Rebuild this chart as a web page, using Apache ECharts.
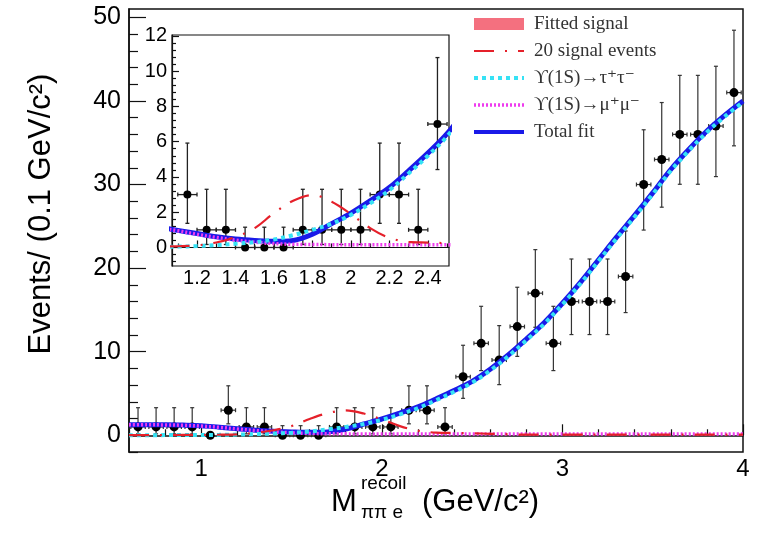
<!DOCTYPE html>
<html>
<head>
<meta charset="utf-8">
<script src="https://cdn.jsdelivr.net/npm/echarts@6/dist/echarts.min.js"></script>
<style>
html, body { margin: 0; padding: 0; background: #fff; }
#chart { width: 763px; height: 534px; }
</style>
</head>
<body>
<div id="chart"></div>
<script>
// Binned data: recoil mass bin centres (GeV/c^2), event counts and 68% Poisson bounds
const binCenters = [0.65, 0.75, 0.85, 0.95, 1.05, 1.15, 1.25, 1.35, 1.45, 1.55, 1.65, 1.75, 1.85, 1.95, 2.05, 2.15, 2.25, 2.35, 2.45, 2.55, 2.65, 2.75, 2.85, 2.95, 3.05, 3.15, 3.25, 3.35, 3.45, 3.55, 3.65, 3.75, 3.85, 3.95];
const counts = [1, 1, 1, 1, 0, 3, 1, 1, 0, 0, 0, 1, 1, 1, 1, 3, 3, 1, 7, 11, 9, 13, 17, 11, 16, 16, 16, 19, 30, 33, 36, 36, 37, 41];
const errLow = [0.17, 0.17, 0.17, 0.17, 0, 1.37, 0.17, 0.17, 0, 0, 0, 0.17, 0.17, 0.17, 0.17, 1.37, 1.37, 0.17, 4.42, 7.74, 6.06, 9.44, 12.92, 7.74, 12.05, 12.05, 12.05, 14.68, 24.55, 27.29, 30.03, 30.03, 30.95, 34.63];
const errHigh = [3.30, 3.30, 3.30, 3.30, 0, 5.92, 3.30, 3.30, 1.15, 1.15, 1.15, 3.30, 3.30, 3.30, 3.30, 5.92, 5.92, 3.30, 10.77, 15.43, 13.12, 17.71, 22.21, 15.43, 21.09, 21.09, 21.09, 24.44, 36.55, 39.81, 43.06, 43.06, 44.15, 48.46];

// Fit components sampled along the mass axis
const curveX = [0.6, 0.7, 0.8, 0.9, 1.0, 1.1, 1.2, 1.3, 1.4, 1.5, 1.6, 1.7, 1.8, 1.9, 2.0, 2.1, 2.2, 2.3, 2.4, 2.5, 2.6, 2.7, 2.8, 2.9, 3.0, 3.1, 3.2, 3.3, 3.4, 3.5, 3.6, 3.7, 3.8, 3.9, 4.0];
const totalFit = [1.25, 1.26, 1.25, 1.22, 1.15, 0.97, 0.79, 0.61, 0.48, 0.40, 0.35, 0.40, 0.75, 1.35, 1.95, 2.65, 3.40, 4.35, 5.35, 6.45, 7.90, 9.60, 11.50, 13.50, 15.80, 18.30, 21.00, 23.70, 26.30, 29.00, 31.80, 34.20, 36.40, 38.30, 40.00];
const tauTau = [0.00, 0.01, 0.02, 0.03, 0.04, 0.05, 0.08, 0.14, 0.21, 0.30, 0.45, 0.70, 1.00, 1.35, 1.85, 2.50, 3.25, 4.20, 5.20, 6.30, 7.75, 9.45, 11.35, 13.35, 15.65, 18.15, 20.85, 23.55, 26.15, 28.85, 31.65, 34.05, 36.25, 38.15, 39.85];
const muMu = [1.25, 1.25, 1.24, 1.20, 1.10, 0.95, 0.75, 0.57, 0.42, 0.30, 0.22, 0.18, 0.17, 0.16, 0.16, 0.16, 0.16, 0.15, 0.15, 0.15, 0.15, 0.15, 0.15, 0.15, 0.15, 0.15, 0.15, 0.15, 0.15, 0.15, 0.15, 0.15, 0.15, 0.15, 0.15];
const signal20 = [0.02, 0.02, 0.03, 0.04, 0.05, 0.07, 0.12, 0.28, 0.60, 1.10, 1.95, 2.65, 2.97, 2.60, 1.90, 1.10, 0.55, 0.32, 0.28, 0.24, 0.18, 0.12, 0.08, 0.08, 0.08, 0.08, 0.08, 0.08, 0.08, 0.08, 0.08, 0.08, 0.08, 0.08, 0.08];
const fittedSignal = [0, 0, 0, 0, 0, 0, 0, 0, 0, 0, 0, 0, 0, 0, 0, 0, 0, 0, 0, 0, 0, 0, 0, 0, 0, 0, 0, 0, 0, 0, 0, 0, 0, 0, 0];

// Tick labels
const xTickLabels = [1, 2, 3, 4];
const yTickLabels = [0, 10, 20, 30, 40, 50];
const insetXTickLabels = [1.2, 1.4, 1.6, 1.8, 2, 2.2, 2.4];
const insetYTickLabels = [0, 2, 4, 6, 8, 10, 12];

// Legend entries
const legendNames = ['Fitted signal', '20 signal events', 'ϒ(1S)→τ⁺τ⁻', 'ϒ(1S)→μ⁺μ⁻', 'Total fit'];

const SANS = '"Liberation Sans", Arial, Helvetica, sans-serif';
const SERIF = '"Liberation Serif", "Times New Roman", "DejaVu Serif", serif';
const COL = { signal: '#f4707f', red: '#e5202a', cyan: '#36e2f5', magenta: '#ee3cee', blue: '#1a1ae8' };

const LINE_STYLES = {
  total: { color: COL.blue, width: 5 },
  mumu: { color: COL.magenta, width: 3.5, type: [2, 2] },
  tautau: { color: COL.cyan, width: 4, type: [4, 4] },
  signal: { color: COL.red, width: 2.2, type: [20, 11, 2, 11] }
};

const X_RANGE = [0.6, 4.0], Y_RANGE = [-2, 51];
const INSET_X = [1.07, 2.51], INSET_Y = [-1.05, 12.05];

function steps(from, to, step, skipEvery) {
  const out = [];
  const n = Math.round((to - from) / step);
  for (let k = 0; k <= n; k++) {
    const v = Math.round((from + k * step) * 1000) / 1000;
    const r = v / skipEvery;
    if (Math.abs(r - Math.round(r)) > 1e-6) out.push(v);
  }
  return out;
}
const xMinor = steps(0.6, 4.0, 0.2, 1);
const yMinor = steps(-2, 50, 2, 10);
const insetXMinor = steps(1.1, 2.5, 0.1, 0.2);
const insetYMinor = steps(-0.8, 12, 0.4, 2);

function pairs(xs, ys) { return xs.map((x, i) => [x, ys[i]]); }
function points(filter) {
  const out = [];
  binCenters.forEach((x, i) => {
    if (!filter || (x > filter[0] && x < filter[1])) out.push([x, counts[i], errLow[i], errHigh[i]]);
  });
  return out;
}

function errorBars(halfWidth, cap, color, width) {
  return function (params, api) {
    const x = api.value(0), y = api.value(1), lo = api.value(2), hi = api.value(3);
    if (!(hi > lo)) return { type: 'group', children: [] };
    const c = api.coord([x, y]);
    const l = api.coord([x - halfWidth, y]);
    const r = api.coord([x + halfWidth, y]);
    const t = api.coord([x, hi]);
    const b = api.coord([x, lo]);
    const style = { stroke: color, lineWidth: width };
    const ln = (x1, y1, x2, y2) => ({ type: 'line', shape: { x1, y1, x2, y2 }, style });
    return {
      type: 'group',
      children: [
        ln(l[0], c[1], r[0], c[1]),
        ln(l[0], c[1] - cap, l[0], c[1] + cap),
        ln(r[0], c[1] - cap, r[0], c[1] + cap),
        ln(c[0], t[1], c[0], b[1]),
        ln(c[0] - cap, t[1], c[0] + cap, t[1]),
        ln(c[0] - cap, b[1], c[0] + cap, b[1])
      ]
    };
  };
}

function valueAxis(o) {
  return Object.assign({
    type: 'value',
    splitLine: { show: false },
    axisLine: { show: false },
    axisLabel: { show: false },
    axisTick: { show: false }
  }, o);
}

const mainAxisLine = { show: true, lineStyle: { color: '#111', width: 1.5 } };
const insetAxisLine = { show: true, lineStyle: { color: '#111', width: 1.2 } };
const tickStyle = { color: '#111', width: 1.2 };

function fitLines(xi, yi, zBase) {
  const common = { type: 'line', xAxisIndex: xi, yAxisIndex: yi, smooth: 0.35, symbol: 'none' };
  return [
    Object.assign({ name: legendNames[4], data: pairs(curveX, totalFit), z: zBase, color: COL.blue,
      lineStyle: LINE_STYLES.total }, common),
    Object.assign({ name: legendNames[3], data: pairs(curveX, muMu), z: zBase + 1, color: COL.magenta,
      lineStyle: LINE_STYLES.mumu }, common),
    Object.assign({ name: legendNames[2], data: pairs(curveX, tauTau), z: zBase + 2, color: COL.cyan,
      lineStyle: LINE_STYLES.tautau }, common),
    Object.assign({ name: legendNames[1], data: pairs(curveX, signal20), z: zBase + 3, color: COL.red,
      lineStyle: LINE_STYLES.signal }, common)
  ];
}

const noMarker = { opacity: 0 };
const markerStyle = { color: '#000', opacity: 1 };

const option = {
  animation: false,
  backgroundColor: '#fff',
  grid: [
    { left: 129, right: 20, top: 9, bottom: 82, show: true, borderColor: '#111', borderWidth: 1.5, z: 0 },
    { left: 172, top: 35, width: 277, height: 231, show: true, backgroundColor: '#fff',
      borderColor: '#111', borderWidth: 1.2, z: 10 }
  ],
  xAxis: [
    valueAxis({ gridIndex: 0, position: 'bottom', min: X_RANGE[0], max: X_RANGE[1], axisLine: mainAxisLine,
      axisTick: { show: true, inside: true, length: 11, customValues: xTickLabels, lineStyle: tickStyle },
      axisLabel: { show: true, customValues: xTickLabels, fontSize: 24, fontFamily: SANS, color: '#000', margin: 5 } }),
    valueAxis({ gridIndex: 0, position: 'bottom', min: X_RANGE[0], max: X_RANGE[1],
      axisTick: { show: true, inside: true, length: 6, customValues: xMinor, lineStyle: tickStyle } }),
    valueAxis({ gridIndex: 1, position: 'bottom', min: INSET_X[0], max: INSET_X[1], z: 11, axisLine: insetAxisLine,
      axisTick: { show: true, inside: true, length: 7, customValues: insetXTickLabels, lineStyle: tickStyle },
      axisLabel: { show: true, customValues: insetXTickLabels, fontSize: 20, fontFamily: SANS, color: '#000', margin: 2 } }),
    valueAxis({ gridIndex: 1, position: 'bottom', min: INSET_X[0], max: INSET_X[1], z: 11,
      axisTick: { show: true, inside: true, length: 4, customValues: insetXMinor, lineStyle: tickStyle } })
  ],
  yAxis: [
    valueAxis({ gridIndex: 0, position: 'left', min: Y_RANGE[0], max: Y_RANGE[1], axisLine: mainAxisLine,
      axisTick: { show: true, inside: true, length: 17, customValues: yTickLabels, lineStyle: tickStyle },
      axisLabel: { show: true, customValues: yTickLabels, fontSize: 25, fontFamily: SANS, color: '#000', margin: 8 } }),
    valueAxis({ gridIndex: 0, position: 'left', min: Y_RANGE[0], max: Y_RANGE[1],
      axisTick: { show: true, inside: true, length: 9, customValues: yMinor, lineStyle: tickStyle } }),
    valueAxis({ gridIndex: 1, position: 'left', min: INSET_Y[0], max: INSET_Y[1], z: 11, axisLine: insetAxisLine,
      axisTick: { show: true, inside: true, length: 7, customValues: insetYTickLabels, lineStyle: tickStyle },
      axisLabel: { show: true, customValues: insetYTickLabels, fontSize: 20, fontFamily: SANS, color: '#000', margin: 5 } }),
    valueAxis({ gridIndex: 1, position: 'left', min: INSET_Y[0], max: INSET_Y[1], z: 11,
      axisTick: { show: true, inside: true, length: 4, customValues: insetYMinor, lineStyle: tickStyle } })
  ],
  legend: {
    orient: 'vertical', left: 467, top: 9, itemWidth: 50, itemHeight: 12, itemGap: 7,
    selectedMode: false,
    textStyle: { fontFamily: SERIF, fontSize: 19, color: '#333', lineHeight: 20, padding: [0, 0, 0, 5] },
    data: [
      { name: legendNames[0], icon: 'rect', itemStyle: { color: COL.signal } },
      { name: legendNames[1], itemStyle: noMarker, lineStyle: LINE_STYLES.signal },
      { name: legendNames[2], itemStyle: noMarker, lineStyle: LINE_STYLES.tautau },
      { name: legendNames[3], itemStyle: noMarker, lineStyle: LINE_STYLES.mumu },
      { name: legendNames[4], itemStyle: noMarker, lineStyle: { color: COL.blue, width: 4 } }
    ]
  },
  series: [
    { name: legendNames[0], type: 'line', xAxisIndex: 0, yAxisIndex: 0, data: pairs(curveX, fittedSignal),
      symbol: 'none', z: 2, color: COL.signal, lineStyle: { width: 0 },
      areaStyle: { color: COL.signal, opacity: 1 } },
    { name: 'data', type: 'custom', xAxisIndex: 0, yAxisIndex: 0, z: 3, clip: true,
      data: points(null), encode: { x: 0, y: 1 },
      renderItem: errorBars(0.04, 2, '#333', 1.2) },
    { name: 'data', type: 'scatter', xAxisIndex: 0, yAxisIndex: 0, z: 4,
      data: points(null).map(p => [p[0], p[1]]), symbol: 'circle', symbolSize: 9,
      itemStyle: markerStyle },
    ...fitLines(0, 0, 5),

    { name: 'data', type: 'custom', xAxisIndex: 2, yAxisIndex: 2, z: 12, clip: true,
      data: points(INSET_X), encode: { x: 0, y: 1 },
      renderItem: errorBars(0.05, 2, '#222', 1.3) },
    { name: 'data', type: 'scatter', xAxisIndex: 2, yAxisIndex: 2, z: 13, clip: true,
      data: points(INSET_X).map(p => [p[0], p[1]]), symbol: 'circle', symbolSize: 8,
      itemStyle: markerStyle },
    ...fitLines(2, 2, 14)
  ],
  graphic: [
    { type: 'text', x: 41, y: 214, rotation: Math.PI / 2, z: 20,
      style: { text: 'Events/ (0.1 GeV/c²)', fontSize: 31, fontFamily: SANS, fill: '#000', align: 'center', verticalAlign: 'middle' } },
    { type: 'text', x: 331, y: 502, z: 20,
      style: { text: 'M', fontSize: 31, fontFamily: SANS, fill: '#000', align: 'left', verticalAlign: 'middle' } },
    { type: 'text', x: 361, y: 484, z: 20,
      style: { text: 'recoil', fontSize: 19, fontFamily: SANS, fill: '#000', align: 'left', verticalAlign: 'middle' } },
    { type: 'text', x: 361, y: 513, z: 20,
      style: { text: 'ππ e', fontSize: 19, fontFamily: SANS, fill: '#000', align: 'left', verticalAlign: 'middle' } },
    { type: 'text', x: 422, y: 502, z: 20,
      style: { text: '(GeV/c²)', fontSize: 31, fontFamily: SANS, fill: '#000', align: 'left', verticalAlign: 'middle' } }
  ]
};

const chart = echarts.init(document.getElementById('chart'), null, { renderer: 'canvas' });
chart.setOption(option);
</script>
</body>
</html>
